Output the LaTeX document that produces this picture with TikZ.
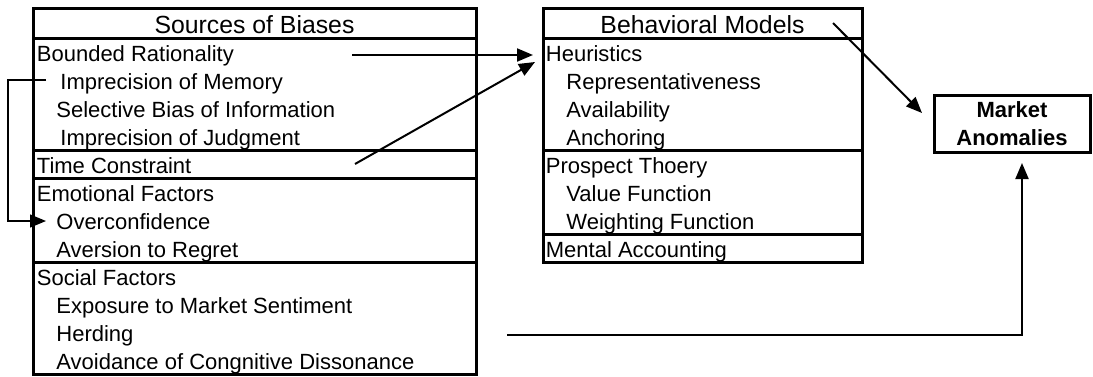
\documentclass[tikz,border=0pt]{standalone}
\usepackage{fontspec}
\setmainfont{Liberation Sans}
\usetikzlibrary{arrows.meta}
\tikzset{
  tablebox/.style={line width=1.5pt},
  item/.style={anchor=base west,inner sep=0pt,font=\fontsize{11}{13}\selectfont},
  header/.style={anchor=base,inner sep=0pt,font=\fontsize{12.4}{14}\selectfont},
  result/.style={anchor=base,inner sep=0pt,font=\fontsize{11}{13}\selectfont\bfseries},
  link/.style={line width=1pt,-{Triangle[length=8pt,width=6.5pt]}},
}
\begin{document}
\begin{tikzpicture}[x=0.5pt,y=-0.5pt]
\useasboundingbox (0,0) rectangle (1093,376);
% sources of biases
\draw[tablebox] (33,8) rectangle (476,374);
\foreach \y in {38,150,178,262} \draw[tablebox] (33,\y) -- (476,\y);
\node[header] (sources) at (254.5,33) {Sources of Biases};
\node[item] (bounded) at (36.5,61) {Bounded Rationality};
\node[item] (memory) at (60,89) {Imprecision of Memory};
\node[item] (selective) at (56,117) {Selective Bias of Information};
\node[item] (judgment) at (60,145) {Imprecision of Judgment};
\node[item] (time) at (36.5,173) {Time Constraint};
\node[item] (emotional) at (36.5,201) {Emotional Factors};
\node[item] (overconf) at (56,229) {Overconfidence};
\node[item] (regret) at (56,257) {Aversion to Regret};
\node[item] (social) at (36.5,285) {Social Factors};
\node[item] (exposure) at (56,313) {Exposure to Market Sentiment};
\node[item] (herding) at (56,341) {Herding};
\node[item] (avoidance) at (56,369) {Avoidance of Congnitive Dissonance};
% behavioral models
\draw[tablebox] (543,8) rectangle (862,262);
\foreach \y in {38,150,234} \draw[tablebox] (543,\y) -- (862,\y);
\node[header] (models) at (702.5,33) {Behavioral Models};
\node[item] (heuristics) at (545.5,61) {Heuristics};
\node[item] (represent) at (566,89) {Representativeness};
\node[item] (avail) at (566,117) {Availability};
\node[item] (anchor) at (566,145) {Anchoring};
\node[item] (prospect) at (545.5,173) {Prospect Thoery};
\node[item] (value) at (566,201) {Value Function};
\node[item] (weight) at (566,229) {Weighting Function};
\node[item] (mental) at (545.5,257) {Mental Accounting};
% market anomalies
\draw[tablebox] (934,95) rectangle (1090,152);
\node[result] (market) at (1012,117) {Market};
\node[result] (anomalies) at (1012,145) {Anomalies};
% connectors
\coordinate (boundedout) at (352,55);
\coordinate (timeout) at (355,164);
\coordinate (heurin) at (533,55);
\coordinate (heurin2) at (535,62);
\coordinate (modelsout) at (833,23);
\coordinate (marketin) at (922,113);
\coordinate (socialout) at (507,335);
\coordinate (marketbot) at (1022,163);
\coordinate (memoryout) at (46,80);
\coordinate (overin) at (46,221);
\draw[link] (boundedout) -- (heurin);
\draw[link] (timeout) -- (heurin2);
\draw[link] (modelsout) -- (marketin);
\draw[link] (socialout) -| (marketbot);
\draw[link,line width=0.7pt] (memoryout) -- (8,80) |- (overin);
\end{tikzpicture}
\end{document}
